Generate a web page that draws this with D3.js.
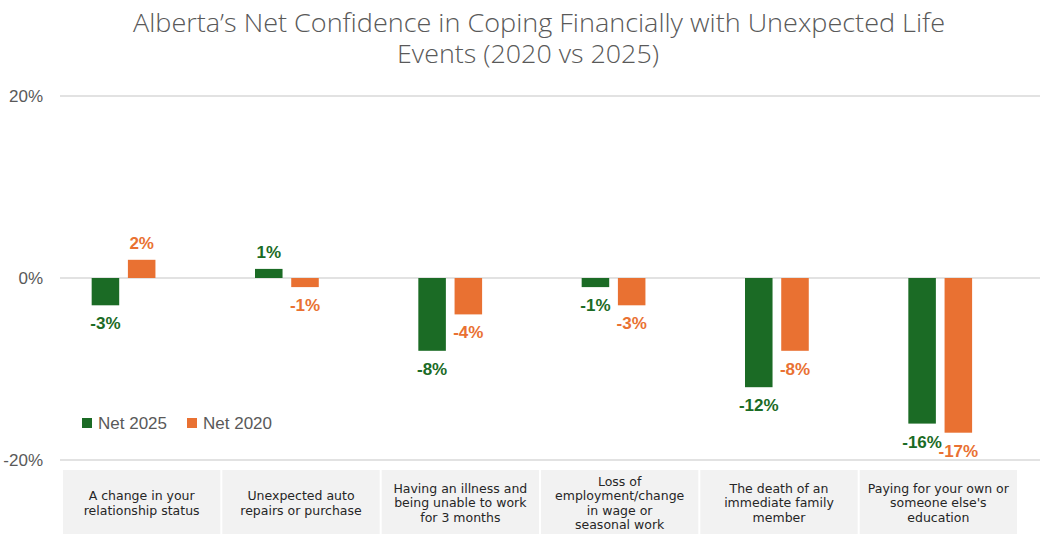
<!DOCTYPE html>
<html>
<head>
<meta charset="utf-8">
<script src="https://cdn.jsdelivr.net/npm/d3@7"></script>
<style>
  html, body { margin: 0; padding: 0; background: #fff; }
  svg { display: block; }
</style>
</head>
<body>
<div id="chart"></div>
<script>
// chart data
const categories = [
  "A change in your\nrelationship status",
  "Unexpected auto\nrepairs or purchase",
  "Having an illness and\nbeing unable to work\nfor 3 months",
  "Loss of\nemployment/change\nin wage or\nseasonal work",
  "The death of an\nimmediate family\nmember",
  "Paying for your own or\nsomeone else's\neducation",
];
const seriesNames = ["Net 2025", "Net 2020"];
const net2025 = [-3, 1, -8, -1, -12, -16];
const net2020 = [2, -1, -4, -3, -8, -17];
const yTicks = [-20, 0, 20];
const colors = ["#1b6b25", "#e97132"];

const width = 1050;
const height = 539;
const textGray = "#595959";

const svg = d3
  .select("#chart")
  .append("svg")
  .attr("width", width)
  .attr("height", height);

// title (two lines, stretched to the width they take in the original)
const titleLines = [
  { text: "Alberta\u2019s Net Confidence in Coping Financially with Unexpected Life", x: 539, y: 32, len: 812 },
  { text: "Events (2020 vs 2025)", x: 528, y: 63, len: 262 },
];
svg
  .append("g")
  .selectAll("text")
  .data(titleLines)
  .join("text")
  .attr("x", (d) => d.x)
  .attr("y", (d) => d.y)
  .attr("text-anchor", "middle")
  .attr("textLength", (d) => d.len)
  .attr("lengthAdjust", "spacingAndGlyphs")
  .style("font-family", "'Open Sans', sans-serif")
  .style("font-weight", 300)
  .style("font-size", "25px")
  .style("fill", textGray)
  .text((d) => d.text);

// scales
const x0 = d3.scaleBand().domain(d3.range(categories.length)).range([60, 1040]);
// Excel layout keeps a third (empty) slot on the right of each group
const x1 = d3
  .scaleBand()
  .domain([...seriesNames, "blank"])
  .range([-50, 50])
  .paddingInner(0.24);
const y = d3.scaleLinear().domain([-20, 20]).range([460, 96]);

// gridlines + y labels
const grid = svg.append("g");
grid
  .selectAll("line")
  .data(yTicks)
  .join("line")
  .attr("x1", 60)
  .attr("x2", 1040)
  .attr("y1", (d) => y(d))
  .attr("y2", (d) => y(d))
  .style("stroke", "#d9d9d9")
  .style("stroke-width", 1.5);

grid
  .selectAll("text")
  .data(yTicks)
  .join("text")
  .attr("x", 43)
  .attr("y", (d) => y(d))
  .attr("dy", "0.35em")
  .attr("text-anchor", "end")
  .style("font-family", "'Liberation Sans', Arial, sans-serif")
  .style("font-size", "17px")
  .style("fill", textGray)
  .text((d) => d + "%");

// bars
const series = [net2025, net2020];
const barData = [];
series.forEach((values, s) => {
  values.forEach((v, i) => barData.push({ s, i, v }));
});

const slotOffset = (d) =>
  x0(d.i) + x0.bandwidth() / 2 + x1(seriesNames[d.s]);

svg
  .append("g")
  .selectAll("rect")
  .data(barData)
  .join("rect")
  .attr("x", (d) => slotOffset(d))
  .attr("width", x1.bandwidth())
  .attr("y", (d) => y(Math.max(0, d.v)))
  .attr("height", (d) => Math.abs(y(d.v) - y(0)))
  .style("fill", (d) => colors[d.s]);

// data labels
svg
  .append("g")
  .selectAll("text")
  .data(barData)
  .join("text")
  .attr("x", (d) => slotOffset(d) + x1.bandwidth() / 2)
  .attr("y", (d) => (d.v >= 0 ? y(d.v) - 11 : y(d.v) + 24))
  .attr("text-anchor", "middle")
  .style("font-family", "'Liberation Sans', Arial, sans-serif")
  .style("font-weight", "bold")
  .style("font-size", "17px")
  .style("fill", (d) => colors[d.s])
  .text((d) => d.v + "%");

// legend
const legend = svg
  .append("g")
  .selectAll("g")
  .data(seriesNames)
  .join("g")
  .attr("transform", (d, i) => `translate(${82 + i * 105},418)`);
legend
  .append("rect")
  .attr("width", 10)
  .attr("height", 10)
  .style("fill", (d, i) => colors[i]);
legend
  .append("text")
  .attr("x", 16)
  .attr("y", 5)
  .attr("dy", "0.35em")
  .style("font-family", "'Liberation Sans', Arial, sans-serif")
  .style("font-size", "17px")
  .style("fill", textGray)
  .text((d) => d);

// category table under the axis
const xt = d3.scaleBand().domain(d3.range(categories.length)).range([62, 1018]);
const cells = svg
  .append("g")
  .selectAll("g")
  .data(categories)
  .join("g")
  .attr("transform", (d, i) => `translate(${xt(i)},470)`);
cells
  .append("rect")
  .attr("x", 1)
  .attr("width", xt.bandwidth() - 2)
  .attr("height", 64)
  .style("fill", "#f2f2f2");
cells.each(function (d) {
  const lines = d.split("\n");
  const lh = 14.5;
  const top = 33 - ((lines.length - 1) * lh) / 2;
  d3.select(this)
    .selectAll("text")
    .data(lines)
    .join("text")
    .attr("x", xt.bandwidth() / 2)
    .attr("y", (l, k) => top + k * lh)
    .attr("dy", "0.35em")
    .attr("text-anchor", "middle")
    .style("font-family", "'DejaVu Sans', sans-serif")
    .style("font-size", "12.5px")
    .style("fill", "#262626")
    .text((l) => l);
});
</script>
</body>
</html>
